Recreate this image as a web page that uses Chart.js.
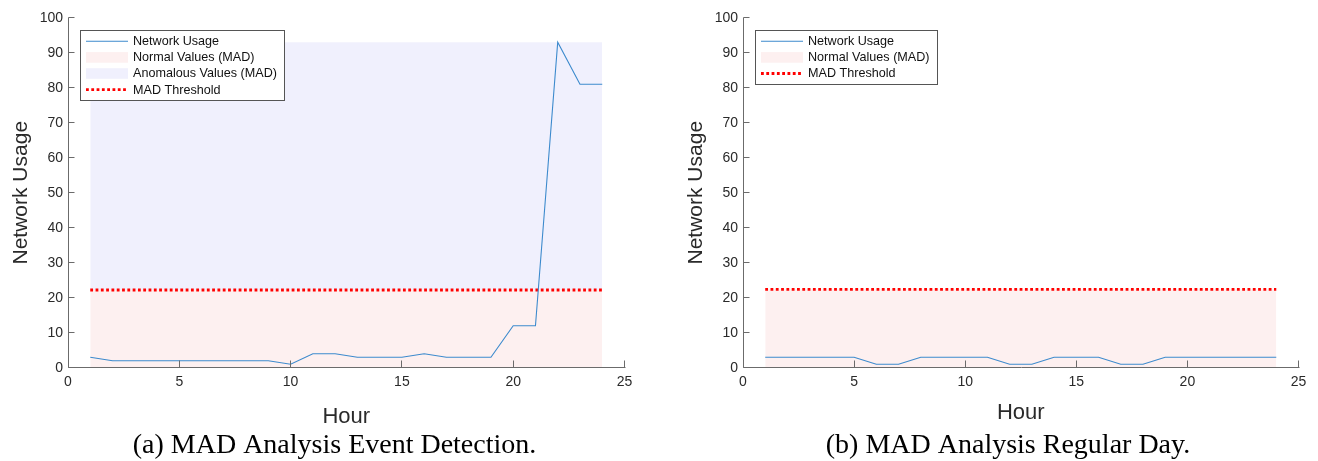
<!DOCTYPE html>
<html><head><meta charset="utf-8">
<script src="https://cdn.jsdelivr.net/npm/chart.js@4.4.1/dist/chart.umd.min.js"></script>
<style>
html,body{margin:0;padding:0;background:#fff;width:1318px;height:461px;overflow:hidden}
canvas{position:absolute;top:0}
#ca{left:0}
#cb{left:659px}
</style></head><body>
<canvas id="ca" width="659" height="461"></canvas>
<canvas id="cb" width="659" height="461"></canvas>
<script>
// ---- data ----
const hours = [1,2,3,4,5,6,7,8,9,10,11,12,13,14,15,16,17,18,19,20,21,22,23,24];
const usageEvent   = [3,2,2,2,2,2,2,2,2,1,4,4,3,3,3,4,3,3,3,12,12,93,81,81];
const usageRegular = [3,3,3,3,3,1,1,3,3,3,3,1,1,3,3,3,1,1,3,3,3,3,3,3];
const thresholdEvent = 22.2;
const thresholdRegular = 22.4;
const xTicks = [0,5,10,15,20,25];
const yTicks = [0,10,20,30,40,50,60,70,80,90,100];
const labelUsage = 'Network Usage';
const labelNormal = 'Normal Values (MAD)';
const labelAnomalous = 'Anomalous Values (MAD)';
const labelThreshold = 'MAD Threshold';
const xTitle = 'Hour';
const yTitle = 'Network Usage';
const captionA = '(a) MAD Analysis Event Detection.';
const captionB = '(b) MAD Analysis Regular Day.';

// ---- styles ----
const COL_LINE = 'rgb(60,138,205)';
const COL_NORMAL = 'rgb(253,240,240)';
const COL_ANOM = 'rgb(240,240,253)';
const COL_THR = 'rgb(255,0,0)';
const COL_AXIS = '#6b6b6b';
const COL_TEXT = '#2a2a2a';
const SANS = '"Liberation Sans", Arial, Helvetica, sans-serif';
const SERIF = '"Liberation Serif", "Times New Roman", serif';

const axesPlugin = {
  id: 'matlabAxes',
  afterDatasetsDraw(chart, args, o) {
    const ctx = chart.ctx, xs = chart.scales.x, ys = chart.scales.y;
    const {left, right, top, bottom} = chart.chartArea;
    const ax = Math.floor(left) + 0.5, ay = Math.floor(bottom) + 0.5;
    ctx.save();
    ctx.strokeStyle = COL_AXIS; ctx.lineWidth = 1;
    ctx.beginPath();
    ctx.moveTo(ax, Math.floor(top) + 0.5); ctx.lineTo(ax, ay);
    ctx.lineTo(Math.ceil(right) + 0.5, ay);
    xs.ticks.forEach(t => { const px = Math.floor(xs.getPixelForValue(t.value)) + 0.5; ctx.moveTo(px, ay); ctx.lineTo(px, ay - 7); });
    ys.ticks.forEach(t => { const py = Math.floor(ys.getPixelForValue(t.value)) + 0.5; ctx.moveTo(ax, py); ctx.lineTo(ax + 6, py); });
    ctx.stroke();
    ctx.restore();
  },
  afterDraw(chart, args, o) {
    const ctx = chart.ctx;
    const {left, top} = chart.chartArea;
    // legend
    const items = o.items.map(i => chart.data.datasets[i]);
    ctx.save();
    ctx.font = '12.6px ' + SANS;
    const tw = Math.max(...items.map(d => ctx.measureText(d.label).width));
    const bx = Math.floor(left + o.legendDx) + 0.5, by = Math.floor(top + o.legendDy) + 0.5;
    const rowH = 16.1;
    const bw = 52.5 + tw + 8, bh = items.length * rowH + 5.6;
    ctx.fillStyle = '#fff';
    ctx.fillRect(bx, by, bw, bh);
    ctx.strokeStyle = '#555'; ctx.lineWidth = 1;
    ctx.strokeRect(bx, by, Math.round(bw), Math.round(bh));
    items.forEach((d, k) => {
      const cy = by + 10.8 + k * rowH;
      const sx = bx + 5.5, ex = bx + 47.5;
      if (d.fill) {
        ctx.fillStyle = d.backgroundColor;
        ctx.fillRect(sx, cy - 5.3, ex - sx, 10.6);
      } else {
        ctx.beginPath();
        ctx.strokeStyle = d.borderColor;
        ctx.lineWidth = d.borderWidth;
        ctx.setLineDash(d.borderDash || []);
        ctx.moveTo(sx, cy); ctx.lineTo(ex, cy);
        ctx.stroke();
        ctx.setLineDash([]);
      }
      ctx.fillStyle = '#111';
      ctx.textBaseline = 'middle';
      ctx.textAlign = 'left';
      ctx.fillText(d.label, bx + 52.5, cy + 0.5);
    });
    // caption
    ctx.font = '28px ' + SERIF;
    ctx.fillStyle = '#000';
    ctx.textAlign = 'center';
    ctx.textBaseline = 'alphabetic';
    ctx.fillText(o.caption, o.captionX, o.captionY);
    ctx.restore();
  }
};

function makeChart(id, usage, threshold, withAnom, caption, lay) {
  const pts = hours.map((h, i) => ({x: h, y: usage[i]}));
  const h0 = hours[0], h1 = hours[hours.length - 1];
  const peak = Math.max(...usage);
  const datasets = [
    {label: labelUsage, data: pts, borderColor: COL_LINE, borderWidth: 1.1, pointRadius: 0, fill: false, order: 0, tension: 0},
    {label: labelThreshold, data: [{x: h0, y: threshold}, {x: h1, y: threshold}], borderColor: COL_THR, borderWidth: 2.8, borderDash: [2.8, 2.5], borderCapStyle: 'butt', pointRadius: 0, fill: false, order: 1},
    {label: labelNormal, data: [{x: h0, y: threshold}, {x: h1, y: threshold}], borderColor: 'transparent', borderWidth: 0, backgroundColor: COL_NORMAL, pointRadius: 0, fill: 'origin', order: 3}
  ];
  let legendItems = [0, 2, 1];
  if (withAnom) {
    datasets.push({label: labelAnomalous, data: [{x: h0, y: peak}, {x: h1, y: peak}], borderColor: 'transparent', borderWidth: 0, backgroundColor: COL_ANOM, pointRadius: 0, fill: {value: threshold}, order: 2});
    legendItems = [0, 2, 3, 1];
  }
  return new Chart(document.getElementById(id), {
    type: 'line',
    data: {datasets},
    plugins: [axesPlugin],
    options: {
      responsive: false, animation: false, devicePixelRatio: 1,
      layout: {padding: lay.padding},
      plugins: {
        legend: {display: false}, tooltip: {enabled: false},
        matlabAxes: {items: legendItems, legendDx: 12.7, legendDy: 12.3, caption, captionX: lay.captionX, captionY: 453}
      },
      scales: {
        x: {
          type: 'linear', min: 0, max: 25,
          afterBuildTicks: s => { s.ticks = xTicks.map(v => ({value: v})); },
          afterFit: s => { s.height = lay.xH; },
          grid: {display: false, drawTicks: false}, border: {display: false},
          ticks: {padding: 6, color: COL_TEXT, font: {family: SANS, size: 14}, maxRotation: 0},
          title: {display: true, text: xTitle, color: COL_TEXT, font: {family: SANS, size: 22, lineHeight: 1}, padding: {top: 0, bottom: 0}}
        },
        y: {
          type: 'linear', min: 0, max: 100,
          afterBuildTicks: s => { s.ticks = yTicks.map(v => ({value: v})); },
          afterFit: s => { s.width = 68; },
          grid: {display: false, drawTicks: false}, border: {display: false},
          ticks: {padding: 5, color: COL_TEXT, font: {family: SANS, size: 14}},
          title: {display: true, text: yTitle, color: COL_TEXT, font: {family: SANS, size: 21, lineHeight: 1.2}, padding: {top: 8.4, bottom: 0}}
        }
      }
    }
  });
}

makeChart('ca', usageEvent, thresholdEvent, true, captionA,
  {padding: {left: 0, right: 34.5, top: 17.7, bottom: 32.6}, xH: 60.7, captionX: 334.5});
makeChart('cb', usageRegular, thresholdRegular, false, captionB,
  {padding: {left: 16, right: 19.5, top: 17.7, bottom: 36.6}, xH: 56.7, captionX: 349});
</script>
</body></html>
